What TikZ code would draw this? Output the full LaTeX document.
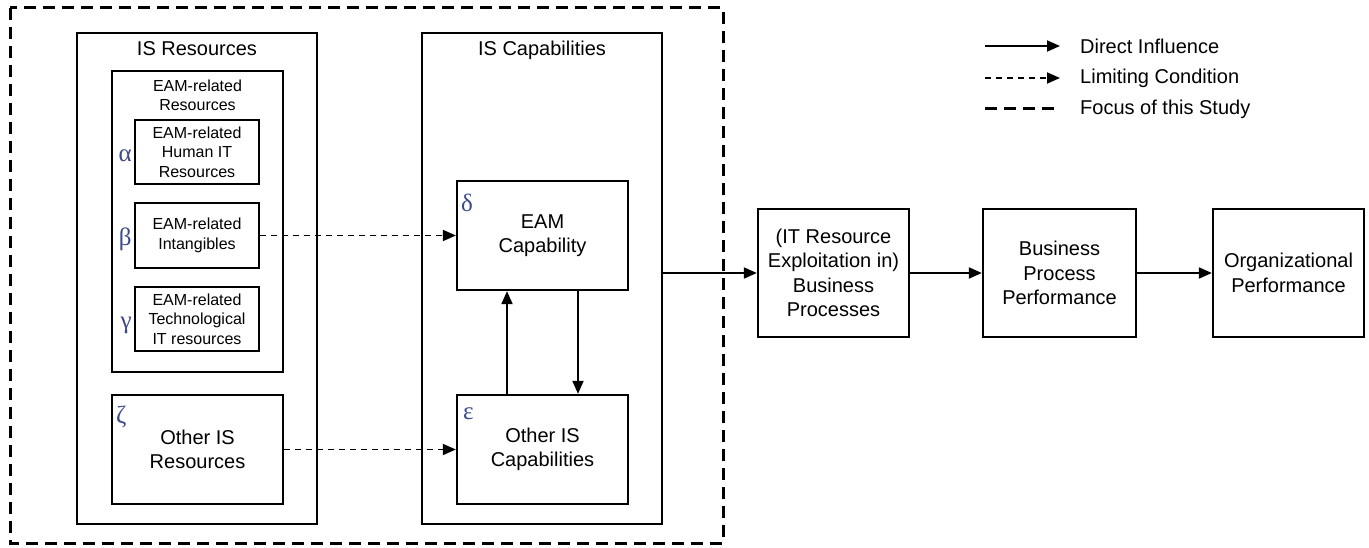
\documentclass[tikz,border=0pt]{standalone}
\usepackage{fontspec}
\setmainfont{Liberation Sans}
\newfontfamily\greekfont{Liberation Serif}
\usetikzlibrary{arrows.meta,calc}
\definecolor{greekblue}{RGB}{60,74,138}
\newcommand{\bigtxt}{\fontsize{20}{24.5}\selectfont}
\newcommand{\smalltxt}{\fontsize{16}{19.5}\selectfont}
\newcommand{\boxlw}{2.3pt}

\tikzset{
  outerbox/.style={draw, line width=\boxlw, minimum width=240pt, minimum height=491pt, inner sep=0pt},
  midbox/.style={draw, line width=\boxlw, minimum width=171pt, minimum height=109pt, inner sep=0pt, align=center, font=\bigtxt},
  smallbox/.style={draw, line width=\boxlw, minimum width=124pt, minimum height=64pt, inner sep=0pt, align=center, font=\smalltxt},
  outcomebox/.style={draw, line width=\boxlw, minimum width=152pt, minimum height=128pt, inner sep=0pt, align=center, font=\bigtxt},
  title/.style={inner sep=0pt, font=\bigtxt},
  greek/.style={inner sep=0pt, text=greekblue, font=\greekfont\fontsize{25}{25}\selectfont},
  direct/.style={line width=1.9pt, -{Triangle[length=13pt,width=11pt]}},
  limiting/.style={line width=1.8pt, dash pattern=on 6pt off 5pt, -{Triangle[length=13pt,width=11pt]}},
  focus/.style={line width=3pt, dash pattern=on 12pt off 7pt}
}

\begin{document}
\begin{tikzpicture}[x=1pt,y=-1pt]
    \useasboundingbox (0,0) rectangle (1369,548);

    % Focus of this study
    \draw[focus] (10,8) rectangle (723,543);

    % IS resources
    \node[outerbox] (isr) at (197,278.5) {};
    \node[title, anchor=base] (isrtitle) at ($(isr.north)+(0,24)$) {IS Resources};
    \node[draw, line width=\boxlw, minimum width=171pt, minimum height=301pt, inner sep=0pt] (ear) at (197.5,221.5) {};
    \node[title, font=\smalltxt, align=center] (eartitle) at ($(ear.north)+(0,25.5)$) {EAM-related\\Resources};
    \node[smallbox] (hum) at (197,152) {EAM-related\\Human IT\\Resources};
    \node[smallbox, minimum height=65pt] (intg) at (197,235.5) {EAM-related\\Intangibles};
    \node[smallbox] (tech) at (197,319) {EAM-related\\Technological\\IT resources};
    \node[midbox] (oisr) at (197.5,449.5) {Other IS\\Resources};

    % IS capabilities
    \node[outerbox] (isc) at (542,278.5) {};
    \node[title, anchor=base] (isctitle) at ($(isc.north)+(0,24)$) {IS Capabilities};
    \node[midbox] (eamc) at (542.5,235.5) {EAM\\Capability};
    \node[midbox] (oisc) at (542.5,449.5) {Other IS\\Capabilities};

    % Greek letters
    \node[greek, anchor=base east] (alpha) at ($(hum.west)+(-2,10)$) {α};
    \node[greek, anchor=base east] (beta) at ($(intg.west)+(-2,10)$) {β};
    \node[greek, anchor=base east] (gamma) at ($(tech.west)+(-2,9)$) {γ};
    \node[greek, anchor=base west] (zeta) at ($(oisr.north west)+(5,30)$) {ζ};
    \node[greek, anchor=base west] (delta) at ($(eamc.north west)+(5,32)$) {δ};
    \node[greek, anchor=base west] (epsilon) at ($(oisc.north west)+(7,26)$) {ε};

    % Business side
    \node[outcomebox, minimum width=151pt] (bp) at (833.5,273) {(IT Resource\\Exploitation in)\\Business\\Processes};
    \node[outcomebox, minimum width=153pt] (bpp) at (1059.5,273) {Business\\Process\\Performance};
    \node[outcomebox, minimum width=151pt] (op) at (1288.5,273) {Organizational\\Performance};

    % Limiting conditions
    \draw[limiting] (intg.east) -- (eamc.west);
    \draw[limiting] (oisr.east) -- (oisc.west);

    % Direct influences
    \draw[direct] ([xshift=-35.5pt]oisc.north) -- ([xshift=-35.5pt]eamc.south);
    \draw[direct] ([xshift=35.5pt]eamc.south) -- ([xshift=35.5pt]oisc.north);
    \draw[direct] (bp.west -| isc.east) -- (bp.west);
    \draw[direct] (bp.east) -- (bpp.west);
    \draw[direct] (bpp.east) -- (op.west);

    % Legend
    \node[title, anchor=west] (lgdirect) at (1080,46) {Direct Influence};
    \node[title, anchor=west] (lglimit) at (1080,78) {Limiting Condition};
    \node[title, anchor=west] (lgfocus) at (1080,109) {Focus of this Study};
    \coordinate (lgdirectstart) at (985,46);
    \coordinate (lglimitstart) at (985,78);
    \coordinate (lgfocusstart) at (985,109);
    \draw[direct] (lgdirectstart) -- ([xshift=-20pt]lgdirect.west);
    \draw[limiting] (lglimitstart) -- ([xshift=-20pt]lglimit.west);
    \draw[focus] (lgfocusstart) -- ([xshift=-20pt]lgfocus.west);
\end{tikzpicture}
\end{document}
